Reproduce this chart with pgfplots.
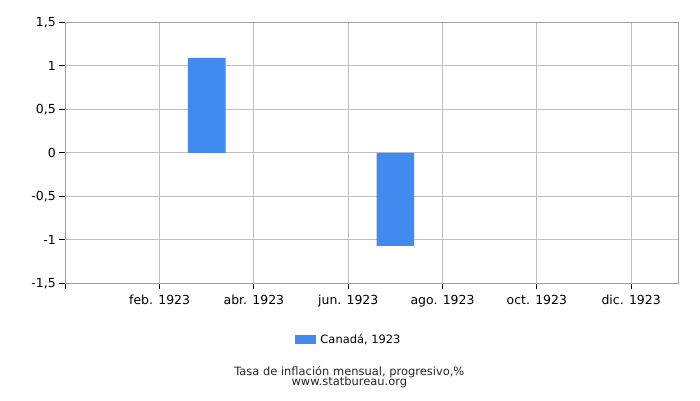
\documentclass[border=0pt]{standalone}
\usepackage{fontspec}
\setmainfont{DejaVu Sans}
\usepackage{pgfplots}
\pgfplotsset{compat=1.18}
\definecolor{barblue}{HTML}{418BF0}
\definecolor{gridgray}{HTML}{C0C0C0}
\definecolor{axgray}{HTML}{A0A0A0}
\begin{document}
\begin{tikzpicture}[x=1bp,y=1bp]
\path[use as bounding box] (-65.3,-116.7) rectangle (634.7,283.3);
\begin{axis}[
  at={(0,0)}, anchor=south west, scale only axis,
  width=613bp, height=261bp,
  xmin=0, xmax=13, ymin=-1.5, ymax=1.5,
  ytick={-1.5,-1,-0.5,0,0.5,1,1.5},
  xtick={0,2,4,6,8,10,12},
  xticklabels={,feb. 1923,abr. 1923,jun. 1923,ago. 1923,oct. 1923,dic. 1923},
  xtick pos=bottom, ytick pos=left,
  grid=major,
  major grid style={gridgray, line width=0.9bp},
  axis line style={axgray, line width=0.9bp},
  tick align=outside,
  major tick length=6bp,
  tick style={black, line width=0.9bp},
  /pgf/number format/assume math mode=true,
  /pgf/number format/use comma,
  ticklabel style={font=\fontsize{12.5}{14}\selectfont, text=black},
  xticklabel style={yshift=-2bp},
  ybar, bar width=0.8,
  legend style={at={(0.4628,-0.2153)}, anchor=center, draw=none,
    font=\fontsize{11.5}{13}\selectfont, legend cell align=left},
  legend image code/.code={\fill[#1] (0bp,-4.5bp) rectangle (21bp,4.5bp);},
]
\addplot[fill=barblue, draw=none, bar shift=0] coordinates {(3,1.09) (7,-1.07)};
\addlegendentry{\hspace{2bp}Canadá, 1923}
\end{axis}
\node[font=\fontsize{11.5}{13}\selectfont, text=black!85] at (284,-88.4) {Tasa de inflación mensual, progresivo,\%};
\node[font=\fontsize{11.5}{13}\selectfont, text=black!85] at (284,-98.9) {www.statbureau.org};
\end{tikzpicture}
\end{document}
